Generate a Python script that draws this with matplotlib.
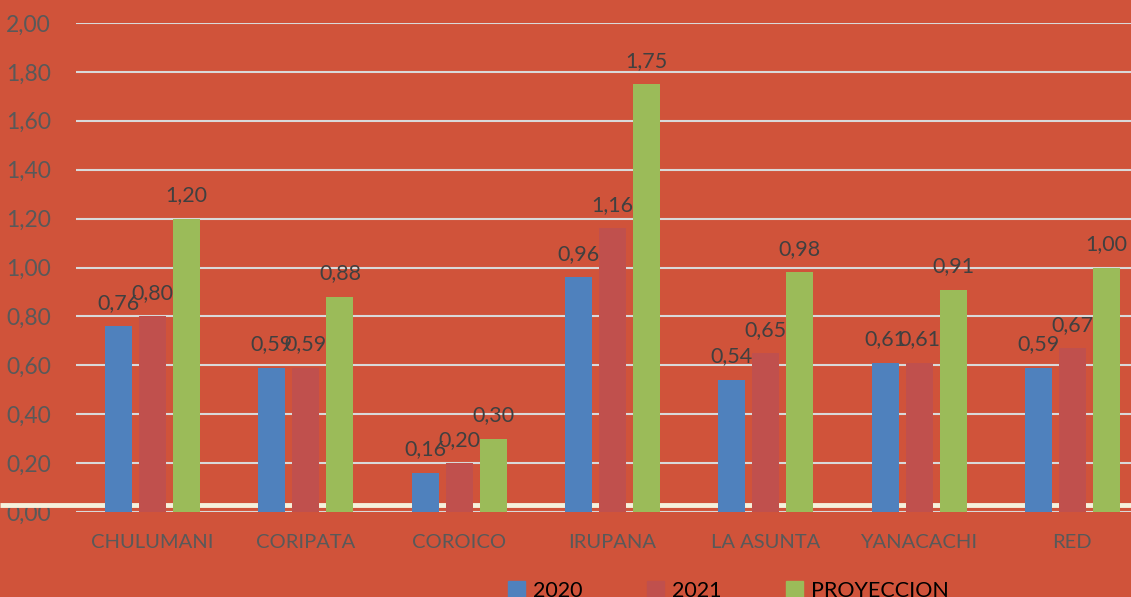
import matplotlib
matplotlib.use("Agg")
import matplotlib.pyplot as plt
import numpy as np
from matplotlib.patches import Patch

plt.rcParams['font.family'] = ['Lato', 'DejaVu Sans']

# data
categories = ["CHULUMANI", "CORIPATA", "COROICO", "IRUPANA", "LA ASUNTA", "YANACACHI", "RED"]
series_names = ["2020", "2021", "PROYECCION"]
v2020 = [0.76, 0.59, 0.16, 0.96, 0.54, 0.61, 0.59]
v2021 = [0.80, 0.59, 0.20, 1.16, 0.65, 0.61, 0.67]
vproy = [1.20, 0.88, 0.30, 1.75, 0.98, 0.91, 1.00]
yticks = [0.0, 0.2, 0.4, 0.6, 0.8, 1.0, 1.2, 1.4, 1.6, 1.8, 2.0]

bg = "#D0533A"
colors = ["#4F81BD", "#C0504D", "#9BBB59"]

fig = plt.figure(figsize=(11.31, 5.97), dpi=100, facecolor=bg)
ax = fig.add_axes([76/1131, 85/597, 1073/1131, 489/597], facecolor=bg)

x = np.arange(len(categories))
offsets = [-0.222, 0.0, 0.222]
width = 0.176

for vals, off, col in zip([v2020, v2021, vproy], offsets, colors):
    bars = ax.bar(x + off, vals, width=width, color=col, zorder=3)
    for b, v in zip(bars, vals):
        ax.text(b.get_x() + b.get_width()/2, v + 0.055, f"{v:.2f}".replace(".", ","),
                ha="center", va="bottom", fontsize=15.5, color="#404040", zorder=4)

# cream band across the full width just above zero
ax.plot([-76/1073, 1.0], [0.029, 0.029], transform=ax.get_yaxis_transform(),
        color="#F5F1DC", lw=3.5, clip_on=False, zorder=2, solid_capstyle="butt")

ax.set_xlim(-0.5, len(categories) - 0.5)
ax.set_ylim(0, 2.0)
ax.set_yticks(yticks)
ax.set_yticklabels([f"{t:.2f}".replace(".", ",") for t in yticks])
ax.set_xticks(x)
ax.set_xticklabels(categories)
ax.tick_params(axis="both", length=0, labelcolor="#595959")
ax.tick_params(axis="x", labelsize=14.5, pad=16)
ax.tick_params(axis="y", labelsize=16.5, pad=18)
ax.yaxis.grid(True, color="#D9D9D9", lw=1.5)
ax.set_axisbelow(True)
for s in ax.spines.values():
    s.set_visible(False)

handles = [Patch(color=c) for c in colors]
fig.legend(handles, series_names, loc="center", bbox_to_anchor=(0.644, 6/597),
           ncol=3, frameon=False, fontsize=15.5, handlelength=0.8, handleheight=0.8,
           handletextpad=0.35, columnspacing=3.0, labelcolor="black")

fig.savefig("out.png", facecolor=bg)
